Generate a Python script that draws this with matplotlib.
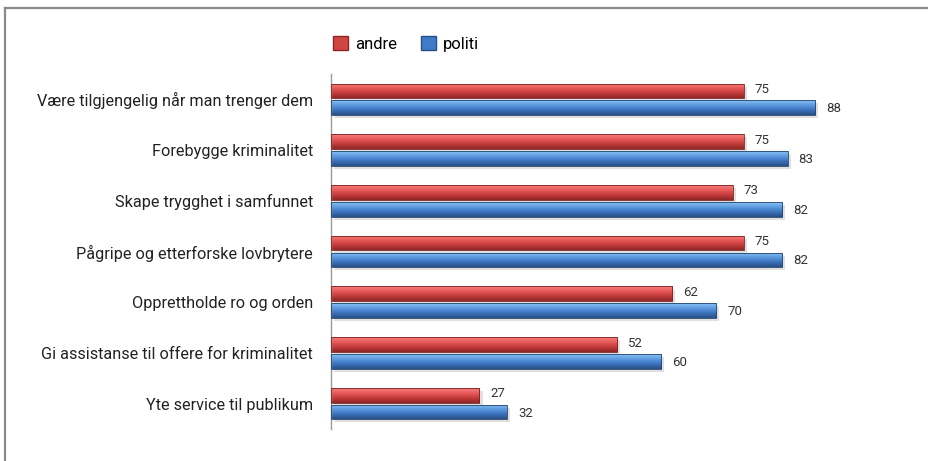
import numpy as np
import matplotlib.pyplot as plt
from matplotlib.colors import LinearSegmentedColormap
from matplotlib.patches import Patch

categories = [
    "Være tilgjengelig når man trenger dem",
    "Forebygge kriminalitet",
    "Skape trygghet i samfunnet",
    "Pågripe og etterforske lovbrytere",
    "Opprettholde ro og orden",
    "Gi assistanse til offere for kriminalitet",
    "Yte service til publikum",
]
andre = [75, 75, 73, 75, 62, 52, 27]
politi = [88, 83, 82, 82, 70, 60, 32]

plt.rcParams['font.family'] = ['Roboto', 'DejaVu Sans']

fig = plt.figure(figsize=(9.29, 4.61), dpi=100)
ax = fig.add_axes([331 / 929, 32 / 461, 550 / 929, 355 / 461])

y = np.arange(len(categories))
h = 0.29
off = 0.165

red_cmap = LinearSegmentedColormap.from_list(
    "r", ["#f78080", "#e85a5a", "#c23a3a", "#8e2626"])
blue_cmap = LinearSegmentedColormap.from_list(
    "b", ["#8cc2f5", "#5c9ae0", "#3b72bb", "#284f86"])
grad = np.linspace(0, 1, 64).reshape(-1, 1)


def draw(vals, ypos, cmap, edge):
    # soft shadow
    ax.barh(ypos + 0.06, vals, height=h, left=0.6, color="#000000",
            alpha=0.12, zorder=1)
    bars = ax.barh(ypos, vals, height=h, color="none", edgecolor=edge,
                   linewidth=0.6, zorder=3)
    for b in bars:
        x0, y0 = b.get_x(), b.get_y()
        im = ax.imshow(grad, cmap=cmap, aspect="auto", zorder=2,
                       extent=[x0, x0 + b.get_width(), y0 + b.get_height(), y0],
                       interpolation="bicubic")
        im.set_clip_path(b)
    return bars


rb = draw(andre, y - off, red_cmap, "#7a2020")
bb = draw(politi, y + off, blue_cmap, "#22456f")

for yy, v in zip(y - off, andre):
    ax.text(v + 2.0, yy - 0.03, str(v), va="center", ha="left",
            fontsize=9.5, color="#333333")
for yy, v in zip(y + off, politi):
    ax.text(v + 2.0, yy + 0.02, str(v), va="center", ha="left",
            fontsize=9.5, color="#333333")

ax.set_xlim(0, 100)
ax.set_ylim(len(categories) - 0.5, -0.5)
ax.set_yticks(y)
ax.set_yticklabels(categories, fontsize=11.7, color="#222222")
ax.tick_params(axis="y", length=0, pad=13)
ax.set_xticks([])
for s in ["top", "right", "bottom"]:
    ax.spines[s].set_visible(False)
ax.spines["left"].set_color("#9a9a9a")
ax.spines["left"].set_linewidth(1.0)

handles = [Patch(facecolor="#d04444", edgecolor="#8e2626"),
           Patch(facecolor="#3f7bc8", edgecolor="#284f86")]
fig.legend(handles, ["andre", "politi"], loc="center",
           bbox_to_anchor=(406 / 929, 1 - 44 / 461), ncol=2, frameon=False,
           fontsize=12, handlelength=0.9, handleheight=0.9,
           handletextpad=0.45, columnspacing=1.4)

# outer frame (top and left edges only)
fig.add_artist(plt.Line2D([5.5 / 929, 1], [1 - 8.5 / 461, 1 - 8.5 / 461],
                          color="#8a8a8a", lw=1.6, transform=fig.transFigure))
fig.add_artist(plt.Line2D([5.5 / 929, 5.5 / 929], [0, 1 - 8.5 / 461],
                          color="#8a8a8a", lw=1.6, transform=fig.transFigure))

fig.savefig("out.png", dpi=100, facecolor="white")
